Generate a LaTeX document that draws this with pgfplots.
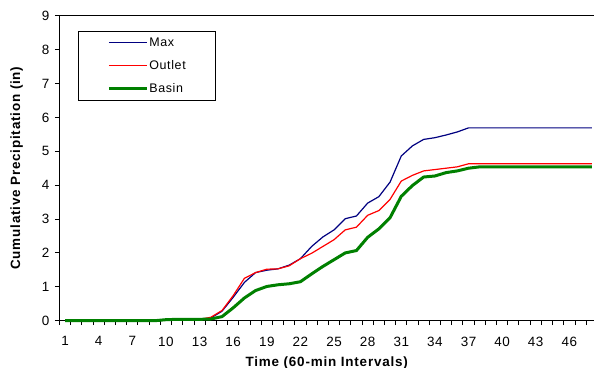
\documentclass[border=0pt]{standalone}
\usepackage{pgfplots}
\pgfplotsset{compat=1.18}
\usepackage{pgfplotstable}
\usepackage{fontspec}
\setmainfont{Liberation Sans}
\definecolor{cmax}{RGB}{0,0,128}
\definecolor{cout}{RGB}{255,0,0}
\definecolor{cbas}{RGB}{0,128,0}
\pgfplotstableread{
k max outlet basin
1 0 0 0
2 0 0 0
3 0 0 0
4 0 0 0
5 0 0 0
6 0 0 0
7 0 0 0
8 0 0 0
9 0 0 0
10 0.03 0.03 0.03
11 0.04 0.04 0.04
12 0.04 0.04 0.04
13 0.04 0.04 0.04
14 0.08 0.10 0.05
15 0.28 0.30 0.12
16 0.69 0.74 0.38
17 1.13 1.25 0.67
18 1.42 1.42 0.89
19 1.49 1.52 1.01
20 1.53 1.53 1.06
21 1.64 1.62 1.09
22 1.83 1.83 1.15
23 2.19 1.99 1.38
24 2.47 2.19 1.60
25 2.68 2.39 1.80
26 3.01 2.68 2.00
27 3.09 2.76 2.07
28 3.47 3.11 2.46
29 3.66 3.25 2.71
30 4.09 3.58 3.04
31 4.86 4.12 3.67
32 5.16 4.29 3.99
33 5.35 4.42 4.24
34 5.40 4.46 4.27
35 5.48 4.50 4.37
36 5.57 4.54 4.42
37 5.69 4.63 4.50
38 5.69 4.63 4.54
39 5.69 4.63 4.54
40 5.69 4.63 4.54
41 5.69 4.63 4.54
42 5.69 4.63 4.54
43 5.69 4.63 4.54
44 5.69 4.63 4.54
45 5.69 4.63 4.54
46 5.69 4.63 4.54
47 5.69 4.63 4.54
48 5.69 4.63 4.54
}\data
\begin{document}
\begin{tikzpicture}
\begin{axis}[
  scale only axis,
  width=534.5bp, height=305bp,
  xmin=0.5, xmax=48.2,
  ymin=0, ymax=9,
  axis x line*=bottom, axis y line*=left,
  axis line style={black, line width=1.2bp, -},
  tick align=outside,
  major tick length=4.5bp,
  tick style={black, line width=0.9bp},
  xtick={0.5,1.5,...,47.5},
  xticklabels={},
  extra x ticks={1,4,...,46},
  extra x tick style={tick style={draw=none}},
  xticklabel style={yshift=-8bp},
  ytick={0,1,...,9},
  yticklabel style={xshift=-2bp},
  /pgf/number format/assume math mode=true,
  tick label style={font=\fontsize{13.5}{15}\selectfont\addfontfeature{LetterSpace=4}},
  xlabel={Time (60-min Intervals)},
  ylabel={Cumulative Precipitation (in)},
  label style={font=\fontsize{13.5}{16}\selectfont\bfseries\addfontfeature{LetterSpace=6}},
  xlabel style={at={(axis description cs:0.5,-0.138)}, anchor=center},
  ylabel style={at={(axis description cs:-0.080,0.5)}, anchor=center, rotate=0},
  legend cell align=left,
  legend image code/.code={\draw[#1] (0bp,0bp) -- (38bp,0bp);},
  legend style={at={(axis description cs:0.0346,0.95)}, anchor=north west,
    draw=black, line width=0.8bp, fill=white,
    font=\fontsize{12.5}{14}\selectfont\addfontfeature{LetterSpace=5},
    inner xsep=29bp, inner ysep=6bp, row sep=12bp,
    nodes={inner xsep=1bp, inner ysep=0bp, text height=9bp, text depth=2bp}},
  clip=false,
]
\addplot[cmax, line width=1.2bp] table[x=k, y=max] {\data};
\addlegendentry{Max}
\addplot[cout, line width=1.2bp] table[x=k, y=outlet] {\data};
\addlegendentry{Outlet}
\addplot[cbas, line width=3bp] table[x=k, y=basin] {\data};
\addlegendentry{Basin}
\draw[black, line width=1.2bp] (rel axis cs:0,1) -- (rel axis cs:1,1);
\coordinate (O) at (rel axis cs:0,0);
\end{axis}
\pgfresetboundingbox
\path (O) ++(-59.5bp,-47.3bp) rectangle ++(594bp,368bp);
\end{tikzpicture}
\end{document}
